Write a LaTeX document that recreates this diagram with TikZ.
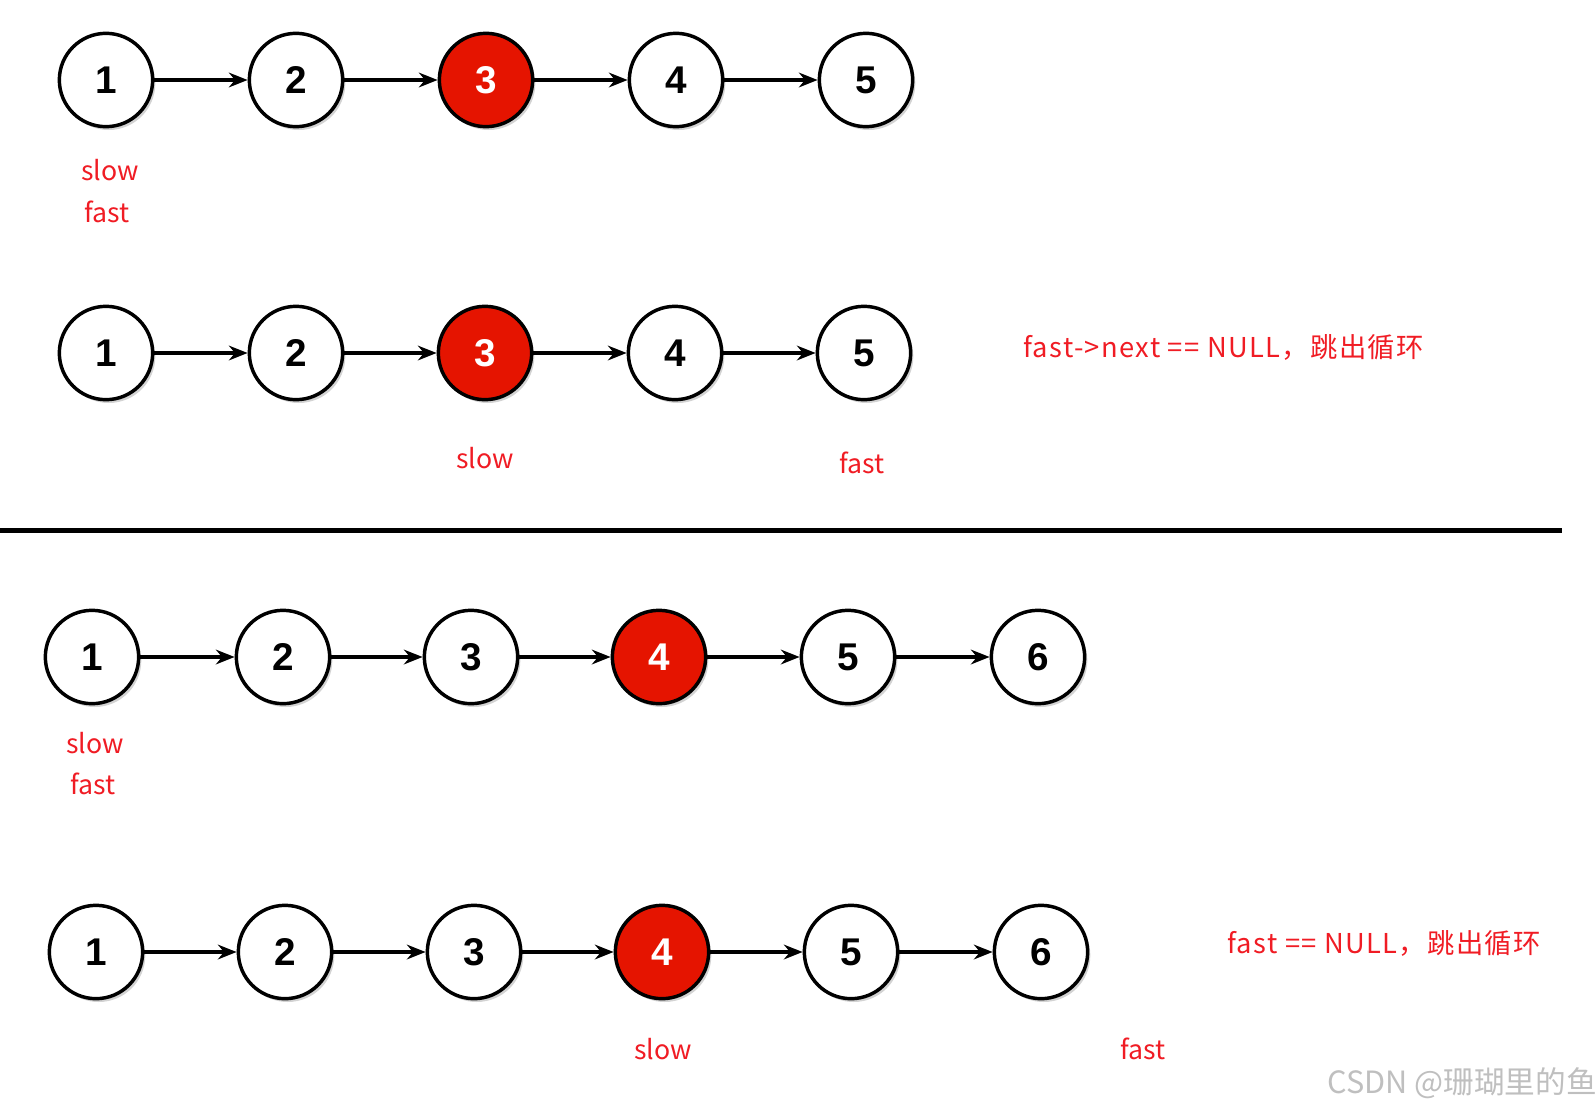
\documentclass[tikz,border=0pt]{standalone}
\usepackage{fontspec}
\newfontfamily\digitfont{Liberation Sans}
\newfontfamily\cjk{Noto Sans CJK SC}
\newfontfamily\cjkwide[LetterSpace=5]{Noto Sans CJK SC}
\usetikzlibrary{shadows,arrows.meta}
\definecolor{nodered}{RGB}{229,20,0}
\definecolor{labelred}{RGB}{240,28,36}
\tikzset{
  plainnode/.style={circle, draw=black, line width=2.6pt, fill=white, minimum size=70pt, inner sep=0pt,
    font=\digitfont\bfseries\fontsize{29}{29}\selectfont,
    drop shadow={shadow xshift=2pt, shadow yshift=-2.5pt, opacity=0.35, fill=gray}},
  hotnode/.style={plainnode, fill=nodered, text=white},
  link/.style={-{Stealth[length=14pt, width=11pt]}, line width=2.8pt},
  ptrlabel/.style={text=labelred, font=\cjk\fontsize{20}{20}\selectfont, inner sep=0pt},
  stoplabel/.style={ptrlabel, anchor=west, font=\cjkwide\fontsize{20.5}{20.5}\selectfont}
}
\begin{document}
\begin{tikzpicture}[x=0.75pt, y=-0.75pt]
  \useasboundingbox (0,0) rectangle (1595,1110);
  % Odd length: first step
  \foreach \i/\x/\s in {1/106/plainnode, 2/296/plainnode, 3/486/hotnode, 4/676/plainnode, 5/866/plainnode}
    \node[\s] (a\i) at (\x,80) {\i};
  \foreach \i/\j in {1/2, 2/3, 3/4, 4/5}
    \draw[link] (a\i) -- (a\j);
  \node[ptrlabel] (aslow) at (110,170) {slow};
  \node[ptrlabel] (afast) at (107,212) {fast};
  % Odd length: last step
  \foreach \i/\x/\s in {1/106/plainnode, 2/296/plainnode, 3/485/hotnode, 4/675/plainnode, 5/864/plainnode}
    \node[\s] (b\i) at (\x,353) {\i};
  \foreach \i/\j in {1/2, 2/3, 3/4, 4/5}
    \draw[link] (b\i) -- (b\j);
  \node[ptrlabel] (bslow) at (485,458) {slow};
  \node[ptrlabel] (bfast) at (862,463) {fast};
  \node[stoplabel] (bstop) at (1023,347) {fast->next == NULL，跳出循环};
  % Separator
  \draw[line width=3.75pt] (0,530) -- (1562,530);
  % Even length: first step
  \foreach \i/\x/\s in {1/92/plainnode, 2/283/plainnode, 3/471/plainnode, 4/659/hotnode, 5/848/plainnode, 6/1038/plainnode}
    \node[\s] (c\i) at (\x,657) {\i};
  \foreach \i/\j in {1/2, 2/3, 3/4, 4/5, 5/6}
    \draw[link] (c\i) -- (c\j);
  \node[ptrlabel] (cslow) at (95,743) {slow};
  \node[ptrlabel] (cfast) at (93,784) {fast};
  % Even length: last step
  \foreach \i/\x/\s in {1/96/plainnode, 2/285/plainnode, 3/474/plainnode, 4/662/hotnode, 5/851/plainnode, 6/1041/plainnode}
    \node[\s] (d\i) at (\x,952) {\i};
  \foreach \i/\j in {1/2, 2/3, 3/4, 4/5, 5/6}
    \draw[link] (d\i) -- (d\j);
  \node[ptrlabel] (dslow) at (663,1049) {slow};
  \node[ptrlabel] (dfast) at (1143,1049) {fast};
  \node[stoplabel] (dstop) at (1227,943) {fast == NULL，跳出循环};
  % Watermark
  \node[anchor=west, inner sep=0pt, text=black!25, font=\cjk\fontsize{23}{23}\selectfont] (mark) at (1327,1083) {CSDN @珊瑚里的鱼};
\end{tikzpicture}
\end{document}
